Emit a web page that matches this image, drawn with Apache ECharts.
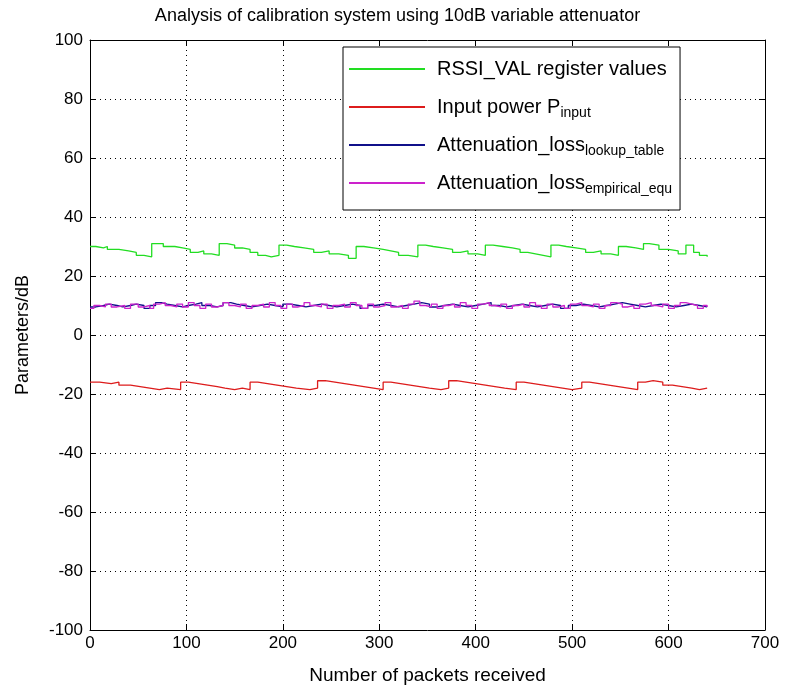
<!DOCTYPE html>
<html><head><meta charset="utf-8">
<script src="https://cdn.jsdelivr.net/npm/echarts@6/dist/echarts.min.js"></script>
<style>html,body{margin:0;padding:0;background:#fff}#c{width:795px;height:693px}</style>
</head><body><div id="c"></div>
<script>
const titleText = 'Analysis of calibration system using 10dB variable attenuator';
const xName = 'Number of packets received';
const yName = 'Parameters/dB';
const seriesNames = ['RSSI_VAL register values','Input power P_input','Attenuation_loss_lookup_table','Attenuation_loss_empirical_equ'];

const rssi = [[0,30],[6,29.5],[14,30],[18,29],[30,28.5],[40,28],[48,27],[56,26.5],[64,31],[70,31],[76,30],[88,29.5],[96,29],[104,28],[112,28.5],[118,27.5],[126,27],[134,31],[142,30.5],[150,29.5],[158,29],[166,28],[174,27],[182,26.5],[188,27],[196,30.5],[204,30],[212,29.5],[222,29],[232,28],[240,28.5],[248,27.5],[258,27],[268,26],[276,30],[284,29.5],[294,29],[304,28.5],[312,28],[320,27],[330,26.5],[340,30.5],[348,30],[356,29.5],[366,29],[376,28],[384,28.5],[392,27.5],[402,27],[410,30.5],[418,30],[428,29.5],[438,29],[446,28],[454,27.5],[462,27],[470,26.5],[478,30.5],[486,30],[494,29.5],[504,29],[514,28],[522,28.5],[530,27.5],[540,27],[548,30],[556,29.5],[566,29],[574,31],[580,30.5],[590,29],[600,28.5],[610,27.5],[618,30.5],[626,28],[632,27],[640,26.5]];

const pinput = [[0,-16],[10,-16.5],[22,-16],[30,-17],[42,-17.5],[52,-18],[62,-18.5],[72,-18],[80,-18.5],[94,-16],[102,-16.5],[112,-17],[122,-17.5],[132,-18],[140,-18.5],[150,-18],[158,-18.5],[166,-16],[174,-16.5],[184,-17],[194,-17.5],[204,-18],[214,-18.5],[228,-18],[236,-15.5],[244,-16],[254,-16.5],[264,-17],[274,-17.5],[284,-18],[294,-18.5],[304,-16],[312,-16.5],[322,-17],[332,-17.5],[342,-18],[352,-18.5],[364,-18],[372,-15.5],[380,-16],[390,-16.5],[400,-17],[410,-17.5],[420,-18],[430,-18.5],[442,-16],[450,-16.5],[460,-17],[470,-17.5],[480,-18],[490,-18.5],[500,-18],[510,-16],[518,-16.5],[528,-17],[538,-17.5],[548,-18],[558,-18.5],[568,-16],[576,-15.5],[584,-16],[594,-17],[604,-17.5],[614,-18],[624,-18.5],[632,-18],[640,-18]];

const lossLookup = [[0,9.5],[6,10],[14,10.5],[20,10],[28,9.5],[34,10],[42,10.5],[48,10],[56,9],[62,10],[68,11],[74,10.5],[80,10],[88,9.5],[96,10],[102,10.5],[110,11],[116,10],[124,9.5],[132,10],[138,11],[146,10.5],[152,10],[160,9.5],[168,10],[176,10.5],[184,10],[192,9.5],[200,10.5],[208,10],[216,9.5],[224,10],[232,10.5],[240,10],[248,9.5],[256,10],[264,10.5],[272,10],[280,9],[288,10],[296,10.5],[304,10],[312,9.5],[320,10],[328,10.5],[336,11],[344,10.5],[352,9.5],[360,10],[368,10.5],[376,10],[384,9.5],[392,10],[400,10.5],[408,11],[416,10],[424,9.5],[432,10],[440,10.5],[448,10],[456,9.5],[464,10],[472,10.5],[480,10],[488,9],[496,10],[504,10.5],[512,10],[520,9.5],[528,10],[536,10.5],[544,11],[552,10.5],[560,10],[568,9.5],[576,10],[584,10.5],[592,10],[600,9.5],[608,10],[616,10.5],[624,10],[632,9.5],[640,9.5]];

const lossEmpirical = [[0,9],[4,10],[10,9.5],[16,10.5],[22,9.5],[28,10],[36,9],[42,10.5],[50,9.5],[56,10],[62,9],[66,10.5],[72,11],[78,10],[84,9.5],[90,10.5],[96,9.5],[102,11],[108,10],[114,9],[120,10.5],[126,9.5],[132,10],[138,11],[144,10],[150,9.5],[156,10.5],[162,9],[168,10],[174,10.5],[180,9.5],[186,11],[192,10],[198,9],[204,10.5],[210,9.5],[216,10],[222,11],[228,10],[234,9.5],[240,10.5],[246,9],[252,10],[258,10.5],[264,9.5],[270,11],[276,10],[282,9],[288,10.5],[294,9.5],[300,10],[306,11],[312,9.5],[318,10],[324,9],[330,10.5],[336,11.5],[342,10],[348,9.5],[354,10.5],[360,9],[366,10],[372,10.5],[378,9.5],[384,11],[390,10],[396,9],[402,10.5],[408,11],[414,10],[420,9.5],[426,10.5],[432,9],[438,10],[444,10.5],[450,9.5],[456,11],[462,10],[468,9],[474,10.5],[480,9.5],[486,10],[492,9],[498,10.5],[504,11],[510,10],[516,9.5],[522,10.5],[528,9],[534,10],[540,11],[546,10.5],[552,9.5],[558,10],[564,9],[570,10.5],[576,11],[582,10],[588,9.5],[594,10.5],[600,9],[606,10],[612,11],[618,10.5],[624,10],[630,9],[636,10],[640,9.5]];

const FONT = '"Liberation Sans", Arial, sans-serif';
const colors = ['#22dd22', '#dd1c1c', '#10108a', '#cc22cc'];
const datasets = [rssi, pinput, lossLookup, lossEmpirical];

const chart = echarts.init(document.getElementById('c'), null, {renderer: 'canvas'});
const gridLine = {show: true, lineStyle: {color: '#000', type: [1, 4], width: 1}};
const axisLine = {show: true, onZero: false, lineStyle: {color: '#000', width: 1}};
const tick = {show: true, inside: true, length: 6, lineStyle: {color: '#000'}};

function legendFmt(name) {
  if (name.startsWith('Input power P_')) return 'Input power P{sub|' + name.slice('Input power P_'.length) + '}';
  if (name.startsWith('Attenuation_loss_')) return 'Attenuation_loss{sub|' + name.slice('Attenuation_loss_'.length) + '}';
  return name;
}

chart.setOption({
  animation: false,
  backgroundColor: '#fff',
  title: {
    text: titleText, left: 'center', top: 2,
    textStyle: {fontFamily: FONT, fontSize: 18, fontWeight: 'normal', color: '#000'}
  },
  grid: {left: 90, right: 30, top: 40, bottom: 63},
  legend: {
    orient: 'vertical', left: 343, top: 47,
    backgroundColor: '#fff', borderColor: '#000', borderWidth: 1, borderRadius: 0,
    padding: [7, 8, 12, 6], itemGap: 8, itemWidth: 76, itemHeight: 2,
    icon: 'rect',
    data: seriesNames,
    formatter: legendFmt,
    textStyle: {
      fontFamily: FONT, fontSize: 20, color: '#000', lineHeight: 30, padding: [0, 0, 0, 7],
      rich: {sub: {fontFamily: FONT, fontSize: 14, color: '#000', padding: [12, 0, 0, 0]}}
    }
  },
  xAxis: [
    {type: 'value', min: 0, max: 700, interval: 100, position: 'bottom',
     name: xName, nameLocation: 'middle', nameGap: 36,
     nameTextStyle: {fontFamily: FONT, fontSize: 19, color: '#000'},
     axisLine, axisTick: tick, splitLine: gridLine,
     axisLabel: {fontFamily: FONT, fontSize: 17, color: '#000', margin: 5}},
    {type: 'value', min: 0, max: 700, interval: 100, position: 'top',
     axisLine, axisTick: tick, splitLine: {show: false}, axisLabel: {show: false}}
  ],
  yAxis: [
    {type: 'value', min: -100, max: 100, interval: 20, position: 'left',
     name: yName, nameLocation: 'middle', nameGap: 58, nameRotate: 90,
     nameTextStyle: {fontFamily: FONT, fontSize: 18, color: '#000'},
     axisLine, axisTick: tick, splitLine: gridLine,
     axisLabel: {fontFamily: FONT, fontSize: 17, color: '#000', margin: 7}},
    {type: 'value', min: -100, max: 100, interval: 20, position: 'right',
     axisLine, axisTick: tick, splitLine: {show: false}, axisLabel: {show: false}}
  ],
  series: seriesNames.map((n, i) => ({
    name: n, type: 'line', step: 'end', symbol: 'none', showSymbol: false,
    data: datasets[i], color: colors[i],
    lineStyle: {width: 1.3, color: colors[i]}
  }))
});
</script></body></html>
